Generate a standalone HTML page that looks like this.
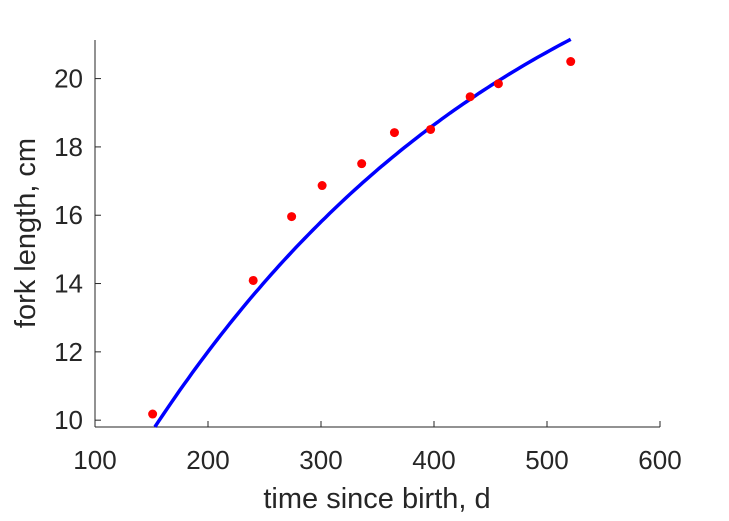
<!DOCTYPE html>
<html><head><meta charset="utf-8"><style>
body{margin:0;background:#fff}
svg{display:block;font-family:"Liberation Sans",Arial,sans-serif}
</style></head><body>
<svg id="chart" width="729" height="521" viewBox="0 0 729 521" xmlns="http://www.w3.org/2000/svg">
<rect width="729" height="521" fill="#fff"/>
<g id="axes"></g>
<g id="series"></g>
<text x="377" y="508" text-anchor="middle" font-size="29" fill="#262626">time since birth, d</text>
<text transform="translate(35,233) rotate(-90)" text-anchor="middle" font-size="29" fill="#262626">fork length, cm</text>
</svg>
<script>
const xTicks=[100,200,300,400,500,600];
const yTicks=[10,12,14,16,18,20];
const ages=[151,240,274,301,336,365,397,432,457,521];
const lengths=[10.18,14.09,15.96,16.87,17.51,18.42,18.51,19.47,19.85,20.5];
const fitLinf=27.1, fitK=0.0029, fitT0=-1.8, fitStart=153, fitEnd=521;
const X0=95,X1=660,Y0=427,Y1=40,xmin=100,xmax=600,ymin=9.8,ymax=21.13;
const sx=v=>X0+(v-xmin)/(xmax-xmin)*(X1-X0);
const sy=v=>Y0-(v-ymin)/(ymax-ymin)*(Y0-Y1);
const NS="http://www.w3.org/2000/svg";
const ax=document.getElementById('axes'),se=document.getElementById('series');
function mk(tag,at,par){const e=document.createElementNS(NS,tag);for(const k in at)e.setAttribute(k,at[k]);par.appendChild(e);return e;}
const xl=mk('line',{x1:X0,y1:Y0,x2:X1,y2:Y0,stroke:'#262626','stroke-width':1},ax);


const yl=mk('line',{x1:X0,y1:Y0,x2:X0,y2:Y1,stroke:'#262626','stroke-width':1},ax);


xTicks.forEach(t=>{
 const tk=mk('line',{x1:sx(t),y1:Y0,x2:sx(t),y2:Y0-6,stroke:'#262626'},ax);
 
 
 const tx=mk('text',{x:sx(t),y:Y0+42,'text-anchor':'middle','font-size':26,fill:'#262626'},ax);
 tx.textContent=t;
 
 
});
yTicks.forEach(t=>{
 const tk=mk('line',{x1:X0,y1:sy(t),x2:X0+6,y2:sy(t),stroke:'#262626'},ax);
 
 
 const tx=mk('text',{x:X0-12,y:sy(t)+9,'text-anchor':'end','font-size':26,fill:'#262626'},ax);
 tx.textContent=t;
 
 
});
let d='';
for(let i=0;i<=100;i++){const t=fitStart+(fitEnd-fitStart)*i/100;const L=fitLinf*(1-Math.exp(-fitK*(t-fitT0)));d+=(i?'L':'M')+sx(t).toFixed(1)+','+sy(L).toFixed(1);}
const p=mk('path',{d:d,fill:'none',stroke:'#0000ff','stroke-width':3.5},se);


ages.forEach((a,i)=>{
 const c=mk('circle',{cx:sx(a),cy:sy(lengths[i]),r:4.5,fill:'#ff0000'},se);
 
 
});
</script>
</body></html>
